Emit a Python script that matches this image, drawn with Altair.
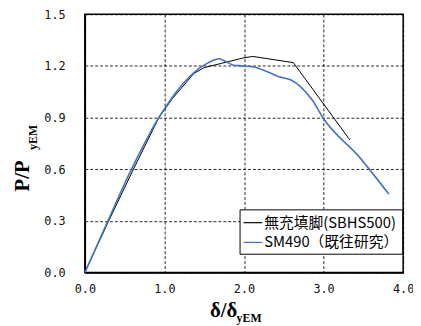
import altair as alt
import pandas as pd

blue_x = [0, 0.29, 0.565, 0.75, 0.91, 1.0, 1.15, 1.3, 1.42, 1.52, 1.6, 1.68, 1.75, 1.87, 2.0, 2.17, 2.3, 2.44, 2.59, 2.71, 2.86, 2.99, 3.45, 3.82]
blue_y = [0, 0.3, 0.58, 0.75, 0.885, 0.95, 1.05, 1.13, 1.18, 1.21, 1.23, 1.242, 1.23, 1.204, 1.2, 1.188, 1.165, 1.137, 1.118, 1.08, 1.0, 0.9, 0.67, 0.455]

black_x = [0, 0.3, 0.6, 0.93, 1.1, 1.37, 1.5, 1.7, 1.99, 2.11, 2.62, 3.33]
black_y = [0, 0.3, 0.59, 0.9, 1.01, 1.156, 1.19, 1.213, 1.246, 1.255, 1.219, 0.77]

series = ["無充填脚(SBHS500)", "SM490（既往研究）"]
colors = ["#000000", "#4472C4"]
x_ticks = [0, 1, 2, 3, 4]
y_ticks = [0, 0.3, 0.6, 0.9, 1.2, 1.5]

df_black = pd.DataFrame({"x": black_x, "y": black_y, "s": series[0], "o": range(len(black_x))})
df_blue = pd.DataFrame({"x": blue_x, "y": blue_y, "s": series[1], "o": range(len(blue_x))})

xs = alt.X("x:Q", scale=alt.Scale(domain=[0, 4], nice=False),
           axis=alt.Axis(values=x_ticks, format=".1f", title=None, labelPadding=11, labelFlush=False))
ys = alt.Y("y:Q", scale=alt.Scale(domain=[0, 1.5], nice=False),
           axis=alt.Axis(values=y_ticks, format=".1f", title=None, labelPadding=20, labelFlush=False))
col = alt.Color("s:N", scale=alt.Scale(domain=series, range=colors),
                legend=alt.Legend(title=None, orient="none", legendX=157, legendY=198,
                                  symbolType="stroke", symbolSize=361, symbolStrokeWidth=1.2,
                                  labelFont="Noto Sans CJK JP", labelFontSize=15,
                                  labelColor="black", fillColor="white", strokeColor="black",
                                  padding=3, rowPadding=1, cornerRadius=0, labelOffset=1))

black_line = alt.Chart(df_black).mark_line(strokeWidth=1).encode(x=xs, y=ys, color=col, order="o:Q")
blue_line = alt.Chart(df_blue).mark_line(strokeWidth=1.6, interpolate="monotone").encode(
    x=xs, y=ys, color=col, order="o:Q")

one = pd.DataFrame({"t": [0]})
serif = "Liberation Serif"
t1 = alt.Chart(one).mark_text(text="δ/δ", font=serif, fontWeight="bold", fontSize=21,
                              align="left", baseline="alphabetic").encode(x=alt.value(127), y=alt.value(307))
t2 = alt.Chart(one).mark_text(text="yEM", font=serif, fontWeight="bold", fontSize=12,
                              align="left", baseline="alphabetic").encode(x=alt.value(154), y=alt.value(312))
t3 = alt.Chart(one).mark_text(text="P/P", font=serif, fontWeight="bold", fontSize=21, angle=270,
                              align="center", baseline="middle").encode(x=alt.value(-63), y=alt.value(164))
t4 = alt.Chart(one).mark_text(text="yEM", font=serif, fontWeight="bold", fontSize=12, angle=270,
                              align="center", baseline="middle").encode(x=alt.value(-53), y=alt.value(125))

chart = alt.layer(black_line, blue_line, t1, t2, t3, t4).properties(
    width=323, height=262,
    background="white",
    autosize=alt.AutoSizeParams(type="none"),
    padding={"left": 78, "top": 4, "right": 10, "bottom": 52},
).configure_view(stroke="black", strokeWidth=1.5).configure_axis(
    grid=True, gridColor="black", gridDash=[3, 2], gridWidth=1, gridOpacity=0.85,
    domainColor="black", domainWidth=1.5, tickSize=0,
    labelFont="DejaVu Sans Mono", labelFontSize=12, labelColor="#111",
)

chart.save("out.html", embed_options={"renderer": "svg", "actions": False})
